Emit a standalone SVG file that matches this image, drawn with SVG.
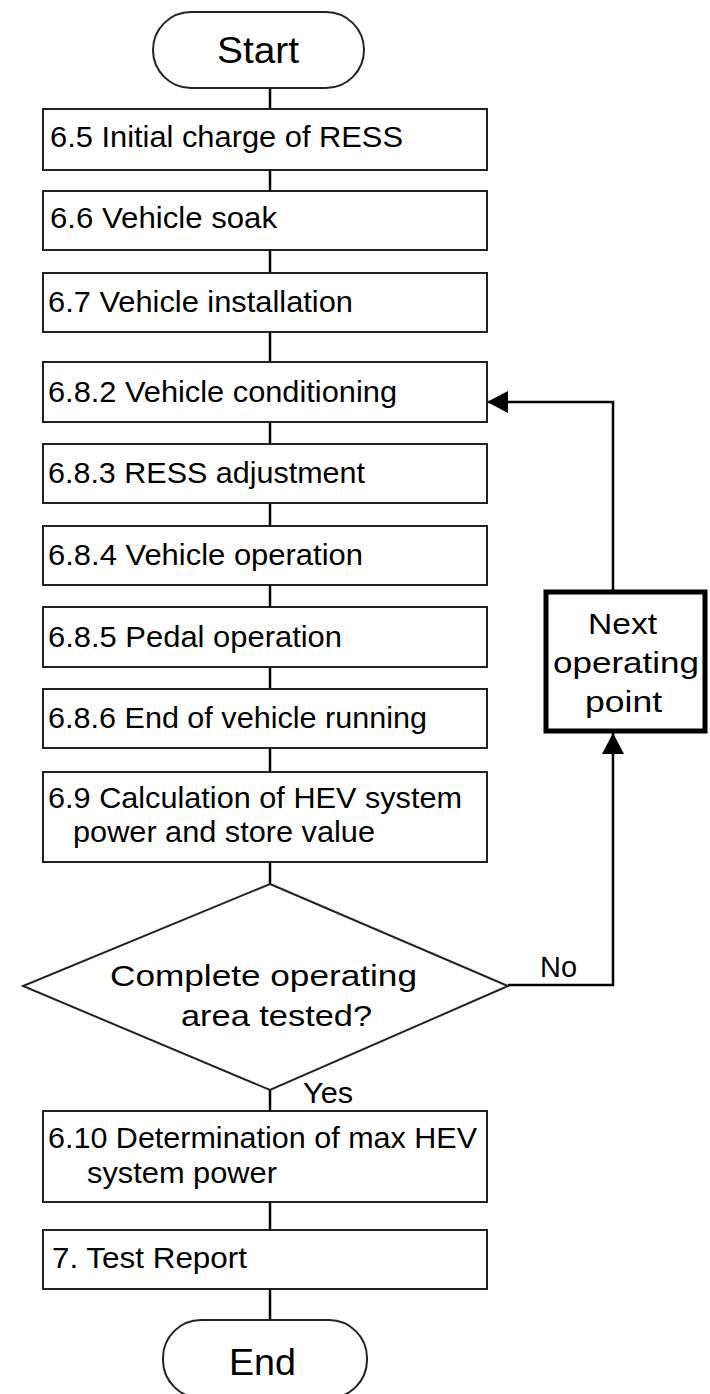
<svg xmlns="http://www.w3.org/2000/svg" width="710" height="1394" viewBox="0 0 710 1394">
<defs>
<style>
.box{fill:#fff;stroke:#222;stroke-width:2}
.thick{fill:#fff;stroke:#000;stroke-width:5}
.t{font-family:"Liberation Sans",Arial,sans-serif;font-size:29px;fill:#000}
.big{font-family:"Liberation Sans",Arial,sans-serif;font-size:37px;fill:#000}
.c{text-anchor:start}
.ln{stroke:#000;stroke-width:2.5;fill:none}
</style>
<marker id="ah" markerWidth="21" markerHeight="22" refX="21" refY="11" orient="auto" markerUnits="userSpaceOnUse">
<path d="M0,0 L21,11 L0,22 Z" fill="#000"/>
</marker>
</defs>
<rect width="710" height="1394" fill="#fff"/>
<g id="connectors">
<line class="ln" x1="270" y1="88" x2="270" y2="109"/>
<line class="ln" x1="270" y1="170" x2="270" y2="191"/>
<line class="ln" x1="270" y1="250" x2="270" y2="273"/>
<line class="ln" x1="270" y1="332" x2="270" y2="362"/>
<line class="ln" x1="270" y1="422" x2="270" y2="444"/>
<line class="ln" x1="270" y1="503" x2="270" y2="526"/>
<line class="ln" x1="270" y1="585" x2="270" y2="607"/>
<line class="ln" x1="270" y1="667" x2="270" y2="689"/>
<line class="ln" x1="270" y1="748" x2="270" y2="772"/>
<line class="ln" x1="270" y1="862" x2="270" y2="884"/>
<line class="ln" x1="270" y1="1090" x2="270" y2="1111"/>
<line class="ln" x1="270" y1="1202" x2="270" y2="1230"/>
<line class="ln" x1="270" y1="1289" x2="270" y2="1320"/>
<polyline class="ln" points="508,985 613,985 613,733" marker-end="url(#ah)"/>
<polyline class="ln" points="613,592 613,402 487,402" marker-end="url(#ah)"/>
<text class="t" x="540" y="977" textLength="37" lengthAdjust="spacingAndGlyphs">No</text>
<text class="t" x="303" y="1103" textLength="50" lengthAdjust="spacingAndGlyphs">Yes</text>
</g>
<g id="start">
<rect class="box" x="153" y="12" width="211" height="76" rx="38" ry="38"/>
<text class="big" x="217" y="63" textLength="82" lengthAdjust="spacingAndGlyphs">Start</text>
</g>
<g id="n65">
<rect class="box" x="43" y="109" width="444" height="61"/>
<text class="t" x="50" y="147" textLength="353" lengthAdjust="spacingAndGlyphs">6.5 Initial charge of RESS</text>
</g>
<g id="n66">
<rect class="box" x="43" y="191" width="444" height="59"/>
<text class="t" x="50" y="228" textLength="227" lengthAdjust="spacingAndGlyphs">6.6 Vehicle soak</text>
</g>
<g id="n67">
<rect class="box" x="43" y="273" width="444" height="59"/>
<text class="t" x="48" y="312" textLength="305" lengthAdjust="spacingAndGlyphs">6.7 Vehicle installation</text>
</g>
<g id="n682">
<rect class="box" x="43" y="362" width="444" height="60"/>
<text class="t" x="48" y="402" textLength="349" lengthAdjust="spacingAndGlyphs">6.8.2 Vehicle conditioning</text>
</g>
<g id="n683">
<rect class="box" x="43" y="444" width="444" height="59"/>
<text class="t" x="48" y="483" textLength="317" lengthAdjust="spacingAndGlyphs">6.8.3 RESS adjustment</text>
</g>
<g id="n684">
<rect class="box" x="43" y="526" width="444" height="59"/>
<text class="t" x="48" y="565" textLength="315" lengthAdjust="spacingAndGlyphs">6.8.4 Vehicle operation</text>
</g>
<g id="n685">
<rect class="box" x="43" y="607" width="444" height="60"/>
<text class="t" x="48" y="647" textLength="294" lengthAdjust="spacingAndGlyphs">6.8.5 Pedal operation</text>
</g>
<g id="n686">
<rect class="box" x="43" y="689" width="444" height="59"/>
<text class="t" x="48" y="728" textLength="379" lengthAdjust="spacingAndGlyphs">6.8.6 End of vehicle running</text>
</g>
<g id="n69">
<rect class="box" x="43" y="772" width="444" height="90"/>
<text class="t" x="48" y="808" textLength="414" lengthAdjust="spacingAndGlyphs">6.9 Calculation of HEV system</text>
<text class="t" x="73" y="842" textLength="302" lengthAdjust="spacingAndGlyphs">power and store value</text>
</g>
<g id="decision">
<polygon class="box" points="270,884 508,986 270,1090 23,986"/>
<text class="t" x="110" y="986" textLength="307" lengthAdjust="spacingAndGlyphs">Complete operating</text>
<text class="t" x="181" y="1026" textLength="191" lengthAdjust="spacingAndGlyphs">area tested?</text>
</g>
<g id="next">
<rect class="thick" x="546" y="592" width="159" height="139"/>
<text class="t" x="588" y="634" textLength="69" lengthAdjust="spacingAndGlyphs">Next</text>
<text class="t" x="553" y="673" textLength="146" lengthAdjust="spacingAndGlyphs">operating</text>
<text class="t" x="585" y="712" textLength="77" lengthAdjust="spacingAndGlyphs">point</text>
</g>
<g id="n610">
<rect class="box" x="43" y="1111" width="444" height="91"/>
<text class="t" x="48" y="1148" textLength="429" lengthAdjust="spacingAndGlyphs">6.10 Determination of max HEV</text>
<text class="t" x="87" y="1183" textLength="190" lengthAdjust="spacingAndGlyphs">system power</text>
</g>
<g id="n7">
<rect class="box" x="43" y="1230" width="444" height="59"/>
<text class="t" x="52" y="1268" textLength="195" lengthAdjust="spacingAndGlyphs">7. Test Report</text>
</g>
<g id="end">
<rect class="box" x="163" y="1320" width="204" height="78" rx="38" ry="38"/>
<text class="big" x="229" y="1375" textLength="67" lengthAdjust="spacingAndGlyphs">End</text>
</g>
</svg>
